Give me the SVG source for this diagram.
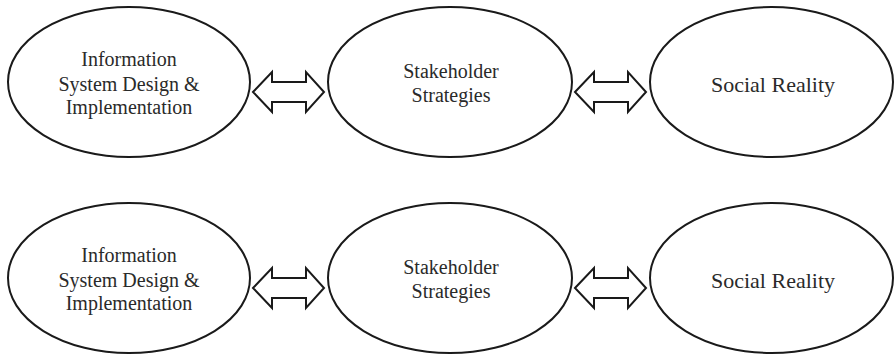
<svg xmlns="http://www.w3.org/2000/svg" width="895" height="355" viewBox="0 0 895 355">
  <style>
    .node ellipse { fill: #ffffff; stroke: #1a1a1a; stroke-width: 2; }
    .node text { font-family: "Liberation Serif", "Times New Roman", serif; font-size: 20px; fill: #2a2a2a; text-anchor: middle; }
    .node text.big { font-size: 22px; }
    .conn { fill: #ffffff; stroke: #1a1a1a; stroke-width: 2; stroke-linejoin: miter; }
  </style>
  <defs>
    <!-- double-headed block arrow, tips at x=0 and x=71, centred on y=0 -->
    <path id="dbl" d="M0,0 L19,-20 L19,-10 L53,-10 L53,-20 L71,0 L53,20 L53,10 L19,10 L19,20 Z"/>
  </defs>
  <rect width="895" height="355" fill="#ffffff"/>

  <!-- top row -->
  <g id="node-isd-1" class="node">
    <ellipse cx="129" cy="82" rx="121" ry="75"/>
    <text x="129" y="66">Information</text>
    <text x="129" y="91">System Design &amp;</text>
    <text x="129" y="114">Implementation</text>
  </g>
  <g id="node-stake-1" class="node">
    <ellipse cx="450" cy="82" rx="122" ry="75"/>
    <text x="451" y="78">Stakeholder</text>
    <text x="451" y="102">Strategies</text>
  </g>
  <g id="node-social-1" class="node">
    <ellipse cx="771.5" cy="82" rx="121.5" ry="75"/>
    <text class="big" x="773" y="92">Social Reality</text>
  </g>

  <!-- bottom row -->
  <g id="node-isd-2" class="node">
    <ellipse cx="129" cy="278" rx="121" ry="75"/>
    <text x="129" y="262">Information</text>
    <text x="129" y="287">System Design &amp;</text>
    <text x="129" y="310">Implementation</text>
  </g>
  <g id="node-stake-2" class="node">
    <ellipse cx="450" cy="278" rx="122" ry="75"/>
    <text x="451" y="274">Stakeholder</text>
    <text x="451" y="298">Strategies</text>
  </g>
  <g id="node-social-2" class="node">
    <ellipse cx="771.5" cy="278" rx="121.5" ry="75"/>
    <text class="big" x="773" y="288">Social Reality</text>
  </g>

  <g id="connectors" class="conn">
    <use href="#dbl" x="253" y="92"/>
    <use href="#dbl" x="575" y="92"/>
    <use href="#dbl" x="253" y="288"/>
    <use href="#dbl" x="575" y="288"/>
  </g>
</svg>
